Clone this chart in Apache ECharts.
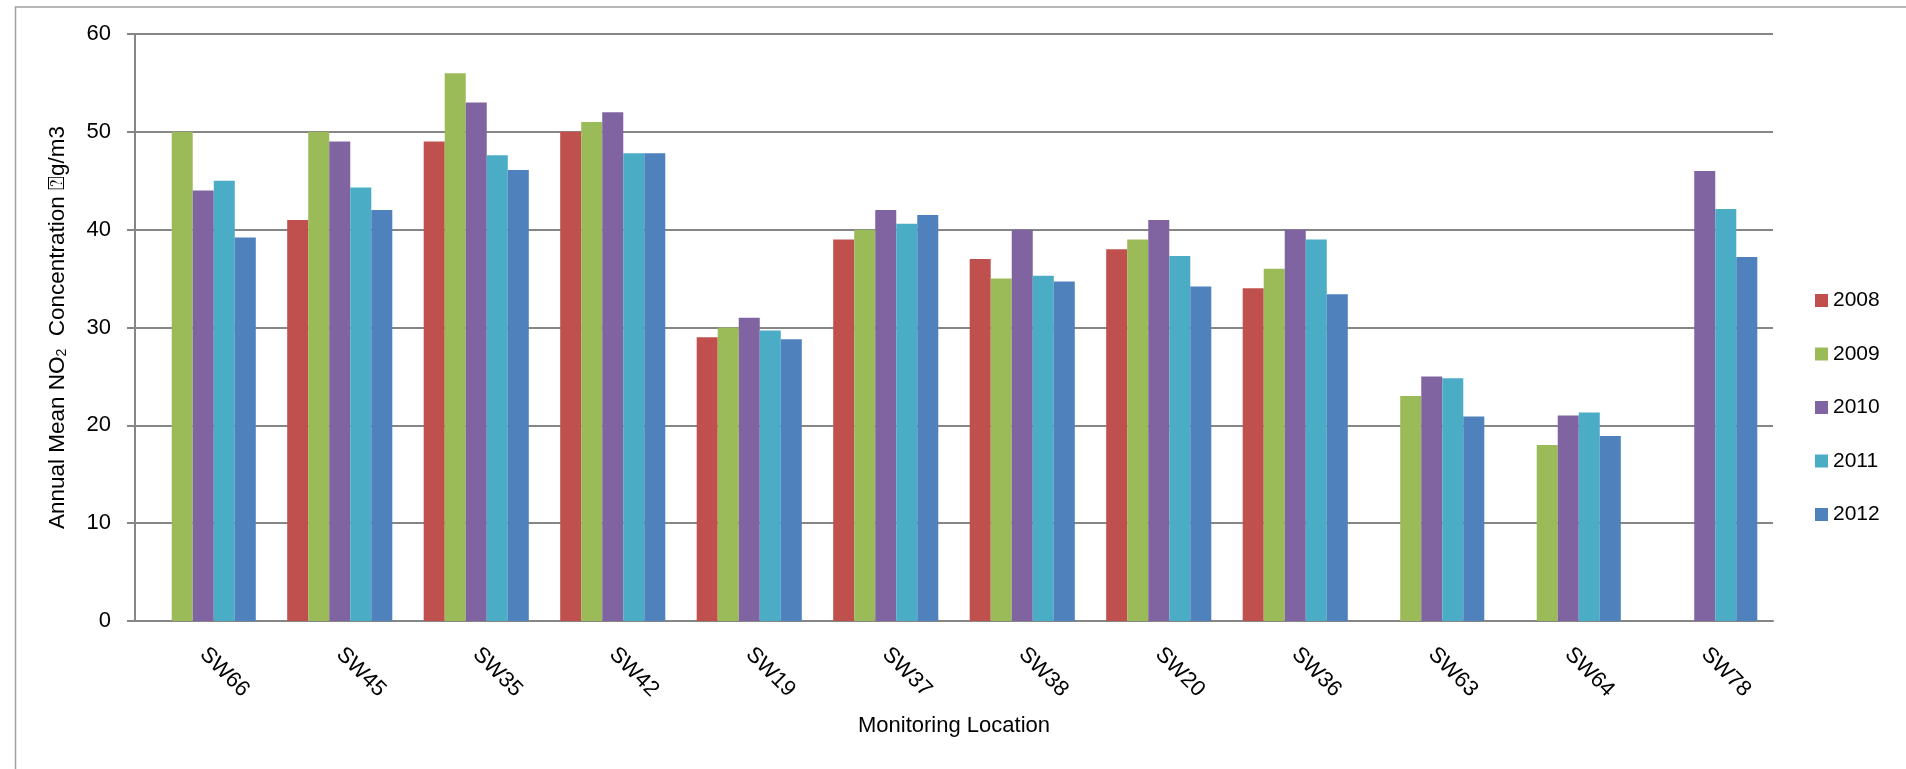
<!DOCTYPE html>
<html>
<head>
<meta charset="utf-8">
<script src="https://cdn.jsdelivr.net/npm/echarts@6/dist/echarts.min.js"></script>
<style>
html,body{margin:0;padding:0;background:#fff;}
#chart{width:1906px;height:769px;}
</style>
</head>
<body>
<div id="chart"></div>
<script>
const categories = ['SW66','SW45','SW35','SW42','SW19','SW37','SW38','SW20','SW36','SW63','SW64','SW78'];
const years = ['2008','2009','2010','2011','2012'];
const s2008 = [null, 41, 49, 50, 29, 39, 37, 38, 34, null, null, null];
const s2009 = [50, 50, 56, 51, 30, 40, 35, 39, 36, 23, 18, null];
const s2010 = [44, 49, 53, 52, 31, 42, 40, 41, 40, 25, 21, 46];
const s2011 = [45, 44.3, 47.6, 47.8, 29.7, 40.6, 35.3, 37.3, 39, 24.8, 21.3, 42.1];
const s2012 = [39.2, 42, 46.1, 47.8, 28.8, 41.5, 34.7, 34.2, 33.4, 20.9, 18.9, 37.2];
const yTicks = [0, 10, 20, 30, 40, 50, 60];

const colors = ['#C0504D', '#9BBB59', '#8064A2', '#4BACC6', '#4F81BD'];
const seriesData = [s2008, s2009, s2010, s2011, s2012];
const FONT = 'Liberation Sans';

const chart = echarts.init(document.getElementById('chart'), null, {renderer: 'canvas'});
chart.setOption({
  animation: false,
  backgroundColor: '#ffffff',
  textStyle: {fontFamily: FONT},
  color: colors,
  graphic: [{
    type: 'rect',
    left: 13, top: 4.5,
    shape: {width: 2000, height: 1000},
    style: {fill: 'none', stroke: '#a0a0a0', lineWidth: 1.5},
    silent: true, z: -1
  }],
  grid: {left: 135, right: 133, top: 34, bottom: 148, containLabel: false},
  legend: {
    orient: 'vertical',
    left: 1810, top: 285,
    itemWidth: 13, itemHeight: 13,
    itemGap: 32.5,
    icon: 'rect',
    data: years,
    textStyle: {fontFamily: FONT, fontSize: 21, color: '#000', lineHeight: 13}
  },
  xAxis: {
    type: 'category',
    data: categories,
    name: 'Monitoring Location',
    nameLocation: 'middle',
    nameGap: 94,
    nameTextStyle: {fontFamily: FONT, fontSize: 22, color: '#000'},
    axisLine: {show: true, lineStyle: {color: '#868686', width: 2}},
    axisTick: {show: false},
    axisLabel: {rotate: -45, margin: 30, fontFamily: FONT, fontSize: 22, color: '#000', interval: 0}
  },
  yAxis: {
    type: 'value',
    min: yTicks[0], max: yTicks[yTicks.length - 1], interval: 10,
    name: 'Annual Mean NO{sub|2}  Concentration ⍰g/m3',
    nameLocation: 'middle',
    nameRotate: 90,
    nameGap: 66,
    nameTextStyle: {
      fontFamily: FONT, fontSize: 22.5, color: '#000',
      rich: {sub: {fontFamily: FONT, fontSize: 14, color: '#000', verticalAlign: 'bottom', padding: [8, 0, 0, 0]}}
    },
    axisLine: {show: true, lineStyle: {color: '#868686', width: 2}},
    axisTick: {show: true, inside: false, length: 8, lineStyle: {color: '#868686', width: 2}},
    axisLabel: {margin: 24, fontFamily: FONT, fontSize: 22, color: '#000'},
    splitLine: {show: true, lineStyle: {color: '#868686', width: 2}}
  },
  series: years.map((y, i) => ({
    name: y,
    type: 'bar',
    data: seriesData[i],
    barGap: '0%',
    barCategoryGap: '23%',
    itemStyle: {color: colors[i]}
  }))
});
</script>
</body>
</html>
